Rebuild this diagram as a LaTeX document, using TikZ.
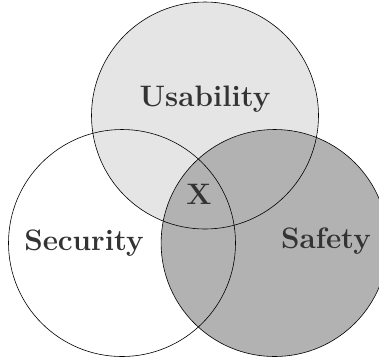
\documentclass[tikz,border=0pt]{standalone}
\usepackage{tikz}
\usetikzlibrary{positioning}
\tikzstyle{setline} = [draw=black, line width=0.6pt]
\tikzstyle{setlabel} = [anchor=base, text=black!80, font=\fontsize{29.6}{34}\selectfont\bfseries]

\begin{document}
\begin{tikzpicture}[x=1pt, y=-1pt]
\useasboundingbox (0,0) rectangle (379,360);
% fills first, then the outlines on top
\fill [white] (122,243) circle (113.5);
\fill [black!10] (205,115.5) circle (113.5);
\fill [black!30] (274.6,243) circle (113.5);
\draw [setline] (122,243) circle (113.5);
\draw [setline] (205,115.5) circle (113.5);
\draw [setline] (274.6,243) circle (113.5);

\node (usab) [setlabel] at (205,106) {Usability};
\node (secu) [setlabel] at (84,250) {Security};
\node (safe) [setlabel] at (326,248) {Safety};
\node (mid) [setlabel] at (199,204) {X};
\end{tikzpicture}
\end{document}
